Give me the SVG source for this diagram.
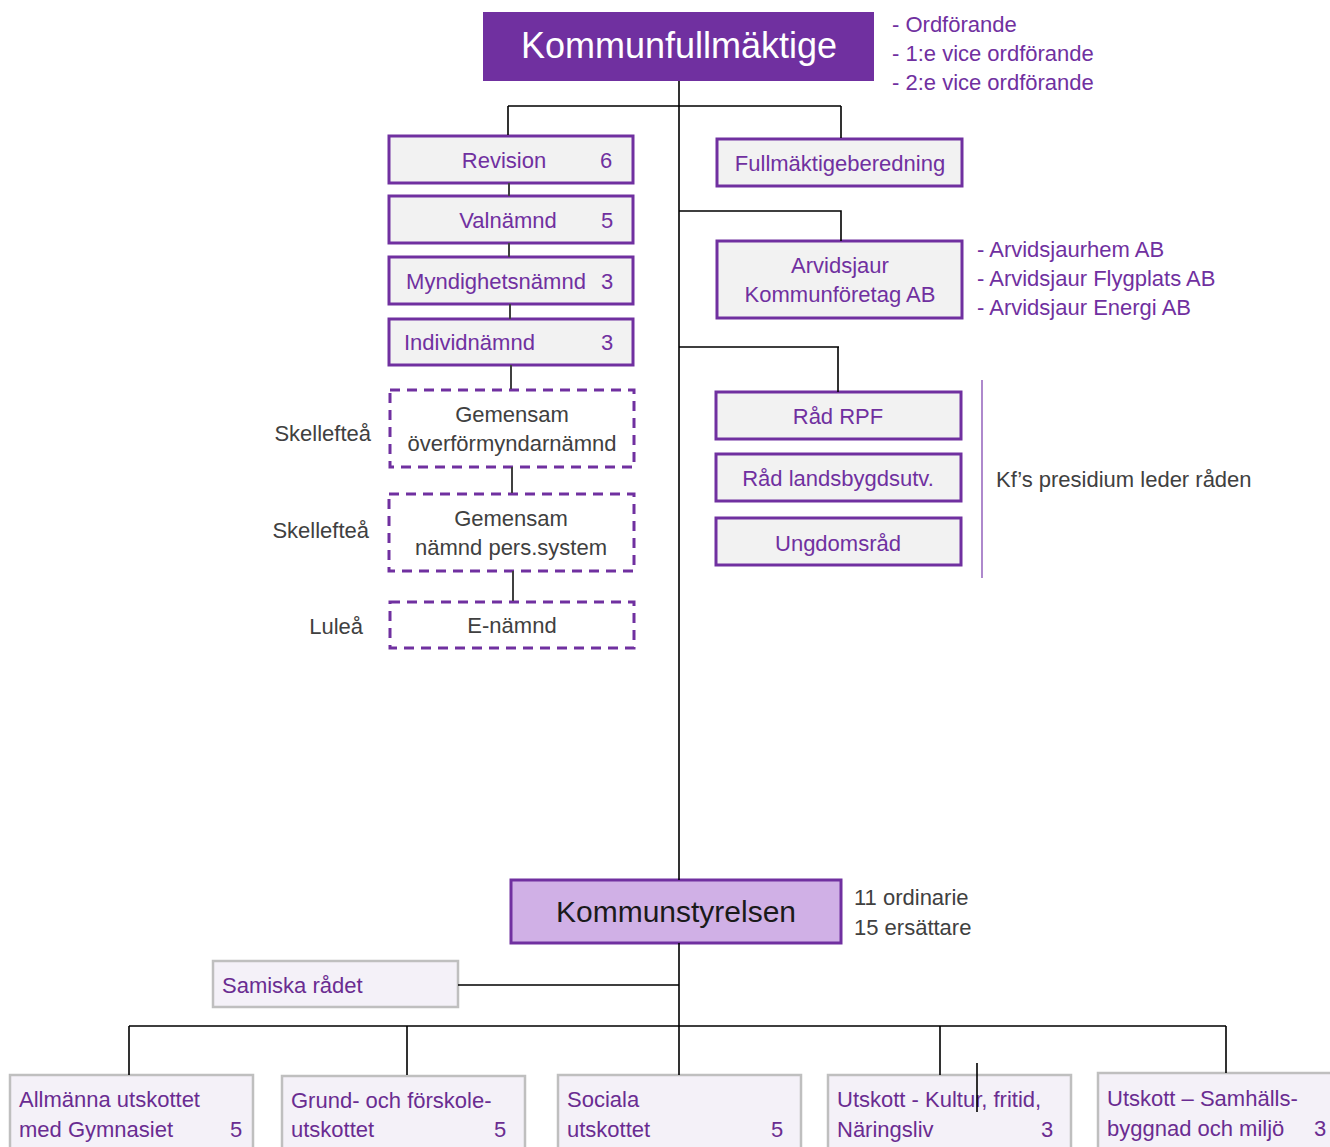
<svg xmlns="http://www.w3.org/2000/svg" width="1330" height="1147" viewBox="0 0 1330 1147">
<style>
text{font-family:"Liberation Sans",Arial,sans-serif;}
.box{fill:#F2F2F2;stroke:#7030A0;stroke-width:3;}
.dash{fill:#FFFFFF;stroke:#7030A0;stroke-width:3;stroke-dasharray:10 7;}
.sub{fill:#F4F1F8;stroke:#BFBFBF;stroke-width:2.5;}
.pt{fill:#7030A0;font-size:22px;}
.gt{fill:#404040;font-size:22px;}
.bt{fill:#6A2C91;font-size:22px;}
.c{text-anchor:middle;}
.e{text-anchor:end;}
.ln{stroke:#000;stroke-width:1.6;fill:none;}
.lg{stroke:#404040;stroke-width:2;fill:none;}
</style>
<rect width="1330" height="1147" fill="#FFFFFF"/>
<g id="kommunfullmaktige">
<rect x="483" y="12" width="391" height="69" fill="#7030A0"/>
<text x="679" y="58" class="c" fill="#FFFFFF" font-size="36">Kommunfullmäktige</text>
<text x="892" y="32" class="pt">- Ordförande</text>
<text x="892" y="61" class="pt">- 1:e vice ordförande</text>
<text x="892" y="90" class="pt">- 2:e vice ordförande</text>
</g>
<g id="revision"><rect class="box" x="389" y="136" width="244" height="47"/><text x="504" y="168" class="pt c">Revision</text><text x="606" y="168" class="pt c">6</text></g>
<g id="valnamnd"><rect class="box" x="389" y="196" width="244" height="47"/><text x="508" y="228" class="pt c">Valnämnd</text><text x="607" y="228" class="pt c">5</text></g>
<g id="myndighetsnamnd"><rect class="box" x="389" y="257" width="244" height="47"/><text x="496" y="289" class="pt c" font-size="20">Myndighetsnämnd</text><text x="607" y="289" class="pt c">3</text></g>
<g id="individnamnd"><rect class="box" x="389" y="319" width="244" height="46"/><text x="404" y="350" class="pt" font-size="20">Individnämnd</text><text x="607" y="350" class="pt c">3</text></g>
<g id="overformyndarnamnd"><rect class="dash" x="390" y="390" width="244" height="77"/><text x="512" y="422" class="gt c">Gemensam</text><text x="512" y="451" class="gt c">överförmyndarnämnd</text><text x="371" y="441" class="gt e">Skellefteå</text></g>
<g id="perssystem"><rect class="dash" x="389" y="494" width="245" height="77"/><text x="511" y="526" class="gt c">Gemensam</text><text x="511" y="555" class="gt c">nämnd pers.system</text><text x="369" y="538" class="gt e">Skellefteå</text></g>
<g id="enamnd"><rect class="dash" x="390" y="602" width="244" height="46"/><text x="512" y="633" class="gt c">E-nämnd</text><text x="363" y="634" class="gt e">Luleå</text></g>
<g id="fullmaktigeberedning"><rect class="box" x="717" y="139" width="245" height="47"/><text x="840" y="171" class="pt c">Fullmäktigeberedning</text></g>
<g id="kommunforetag"><rect class="box" x="717" y="241" width="245" height="77"/><text x="840" y="273" class="pt c">Arvidsjaur</text><text x="840" y="302" class="pt c">Kommunföretag AB</text>
<text x="977" y="257" class="pt">- Arvidsjaurhem AB</text><text x="977" y="286" class="pt">- Arvidsjaur Flygplats AB</text><text x="977" y="315" class="pt">- Arvidsjaur Energi AB</text></g>
<g id="rad-rpf"><rect class="box" x="716" y="392" width="245" height="47"/><text x="838" y="424" class="pt c">Råd RPF</text></g>
<g id="rad-landsbygd"><rect class="box" x="716" y="454" width="245" height="47"/><text x="838" y="486" class="pt c">Råd landsbygdsutv.</text></g>
<g id="ungdomsrad"><rect class="box" x="716" y="518" width="245" height="47"/><text x="838" y="551" class="pt c">Ungdomsråd</text></g>
<g id="presidium-note"><text x="996" y="487" class="gt">Kf’s presidium leder råden</text></g>
<g id="kommunstyrelsen"><rect x="511" y="880" width="330" height="63" fill="#D0B0E6" stroke="#7030A0" stroke-width="3"/><text x="676" y="922" class="c" fill="#1A1A1A" font-size="30">Kommunstyrelsen</text>
<text x="854" y="905" class="gt">11 ordinarie</text><text x="854" y="935" class="gt">15 ersättare</text></g>
<g id="samiska"><rect class="sub" x="213" y="961" width="245" height="46"/><text x="222" y="993" class="bt">Samiska rådet</text></g>
<g id="allmanna"><rect class="sub" x="10" y="1075" width="243" height="90"/><text x="19" y="1107" class="bt">Allmänna utskottet</text><text x="19" y="1137" class="bt">med Gymnasiet</text><text x="236" y="1137" class="bt c">5</text></g>
<g id="grund"><rect class="sub" x="282" y="1076" width="243" height="90"/><text x="291" y="1108" class="bt">Grund- och förskole-</text><text x="291" y="1137" class="bt">utskottet</text><text x="500" y="1137" class="bt c">5</text></g>
<g id="sociala"><rect class="sub" x="558" y="1075" width="243" height="90"/><text x="567" y="1107" class="bt">Sociala</text><text x="567" y="1137" class="bt">utskottet</text><text x="777" y="1137" class="bt c">5</text></g>
<g id="kultur"><rect class="sub" x="828" y="1075" width="243" height="90"/><text x="837" y="1107" class="bt">Utskott - Kultur, fritid,</text><text x="837" y="1137" class="bt">Näringsliv</text><text x="1047" y="1137" class="bt c">3</text></g>
<g id="samhallsbyggnad"><rect class="sub" x="1098" y="1073" width="245" height="90"/><text x="1107" y="1106" class="bt">Utskott – Samhälls-</text><text x="1107" y="1136" class="bt">byggnad och miljö</text><text x="1320" y="1136" class="bt c">3</text></g>
<g id="connectors">
<path class="ln" d="M679 81 V880 M508 106 H841 M508 106 V135 M841 106 V138 M679 211 H841 V241 M679 347 H839 M838 347 V392"/>
<path class="lg" d="M509 183 V196 M509 243 V257 M510 304 V319 M511 365 V389 M512 467 V493 M513 571 V601"/>
<path class="ln" d="M679 943 V1075 M458 985 H679 M129 1026 H1226 M129 1026 V1075 M407 1026 V1075 M940 1026 V1075 M1226 1026 V1073 M977 1063 V1112"/>
<path d="M982 380 V578" stroke="#9A6BC0" stroke-width="1.6"/>
</g>
</svg>
